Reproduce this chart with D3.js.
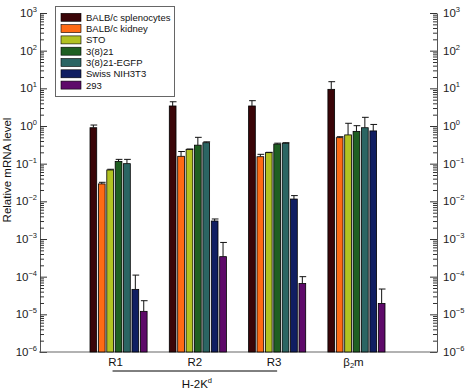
<!DOCTYPE html>
<html><head><meta charset="utf-8">
<script src="https://cdn.jsdelivr.net/npm/d3@7"></script>
<style>body{margin:0;background:#fff}svg{display:block;font-family:"Liberation Sans",Arial,Helvetica,sans-serif}</style>
</head><body>
<svg id="c" width="465" height="392"></svg>
<script>
const groups = ["R1","R2","R3","β2m"];
const seriesNames = ["BALB/c splenocytes","BALB/c kidney","STO","3(8)21","3(8)21-EGFP","Swiss NIH3T3","293"];
const seriesColors = ["#3a0508","#ff6a14","#b2c222","#1f5f22","#2b6563","#101e62","#5e0a6a"];
const splenocytes = [0.9, 3.4, 3.4, 9.4],        splenocytesErr = [1.06, 4.4, 4.7, 15];
const kidney      = [0.029, 0.157, 0.153, 0.49], kidneyErr      = [0.032, 0.21, 0.177, 0.52];
const sto         = [0.068, 0.24, 0.196, 0.58],  stoErr         = [0.071, 0.245, 0.2, 1.18];
const c3821       = [0.115, 0.31, 0.33, 0.72],   c3821Err       = [0.13, 0.5, 0.35, 1.02];
const c3821egfp   = [0.10, 0.36, 0.35, 0.9],     c3821egfpErr   = [0.13, 0.38, 0.36, 1.7];
const nih3t3      = [4.6e-5, 3.0e-3, 0.0115, 0.74], nih3t3Err  = [1.1e-4, 3.4e-3, 0.0142, 1.1];
const h293        = [1.2e-5, 3.4e-4, 6.6e-5, 1.95e-5], h293Err = [2.3e-5, 8.1e-4, 1.0e-4, 4.7e-5];
const yTickExps = [3,2,1,0,-1,-2,-3,-4,-5,-6];

const seriesVals = [splenocytes,kidney,sto,c3821,c3821egfp,nih3t3,h293];
const seriesErrs = [splenocytesErr,kidneyErr,stoErr,c3821Err,c3821egfpErr,nih3t3Err,h293Err];

const svg = d3.select("#c");
const y = d3.scaleLog().domain([1e-6,1e3]).range([352,13]);
const x = d3.scaleBand().domain(groups).range([90,385]).paddingInner(0.28).paddingOuter(0);
const xs = d3.scaleBand().domain(d3.range(seriesNames.length)).range([0,x.bandwidth()]).paddingInner(0.2);

// minor+major ticks
const allTicks = [];
for (let e=-6;e<3;e++) for (let m=1;m<10;m++) allTicks.push(m*Math.pow(10,e));
allTicks.push(1e3);
const isMajor = v => Math.abs(Math.log10(v)-Math.round(Math.log10(v)))<1e-9;

function drawAxis(xpos, dir){
  const ax = (dir>0? d3.axisRight(y): d3.axisLeft(y)).tickValues(allTicks).tickFormat("").tickSizeOuter(0);
  const g = svg.append("g").attr("transform",`translate(${xpos},0)`).call(ax);
  g.select(".domain").attr("stroke","#555");
  g.selectAll(".tick line").attr("stroke","#333").attr("x2", d=> dir*(isMajor(d)?7:4));
  return g;
}
drawAxis(40,1);
drawAxis(437,-1);

// bottom axis line
svg.append("line").attr("x1",39).attr("x2",437).attr("y1",y(1e-6)).attr("y2",y(1e-6)).attr("stroke","#666").attr("stroke-width",1.2);

// tick labels
function tickLabel(xp, anchor, e){
  const t = svg.append("text").attr("x",xp).attr("y",y(Math.pow(10,e))+4).attr("text-anchor",anchor)
    .attr("font-size",11.5).attr("fill","#222");
  t.append("tspan").text("10");
  t.append("tspan").attr("dy",-5).attr("font-size",7.5).text(e<0? "−"+(-e): String(e));
}
yTickExps.forEach(e=>{ tickLabel(37,"end",e); tickLabel(443,"start",e); });

// bars
const bars = [];
seriesVals.forEach((vals,si)=>vals.forEach((v,gi)=>bars.push({si,gi,v,err:seriesErrs[si][gi]})));
const bx = d => x(groups[d.gi]) + xs(d.si);
svg.append("g").selectAll("rect").data(bars).join("rect")
  .attr("x",bx).attr("width",xs.bandwidth())
  .attr("y",d=>y(d.v)).attr("height",d=>y(1e-6)-y(d.v))
  .attr("fill",d=>seriesColors[d.si]).attr("stroke","#000").attr("stroke-width",0.8);
const eg = svg.append("g").attr("stroke","#111").attr("stroke-width",1);
eg.selectAll("line.v").data(bars).join("line").attr("class","v")
  .attr("x1",d=>bx(d)+xs.bandwidth()/2).attr("x2",d=>bx(d)+xs.bandwidth()/2)
  .attr("y1",d=>y(d.v)).attr("y2",d=>y(d.err));
eg.selectAll("line.c").data(bars).join("line").attr("class","c")
  .attr("x1",d=>bx(d)+0.5).attr("x2",d=>bx(d)+xs.bandwidth()+0.5)
  .attr("y1",d=>y(d.err)).attr("y2",d=>y(d.err));

// x labels
svg.append("g").selectAll("text").data(groups).join("text")
  .attr("x",d=>x(d)+x.bandwidth()/2-3).attr("y",366).attr("text-anchor","middle")
  .attr("font-size",11.5).attr("fill","#111")
  .each(function(d){
    const t=d3.select(this);
    if(d==="β2m"){ t.append("tspan").text("β"); t.append("tspan").attr("font-size",7.5).attr("dy",2).text("2"); t.append("tspan").attr("dy",-2).text("m"); }
    else t.text(d);
  });

// H-2Kd bracket
const lx1 = x("R1")+x.bandwidth()/2-6, lx2 = x("R3")+x.bandwidth()/2;
svg.append("line").attr("x1",lx1).attr("x2",lx2).attr("y1",371).attr("y2",371).attr("stroke","#000").attr("stroke-width",1);
const ht = svg.append("text").attr("x",(lx1+lx2)/2+2).attr("y",388).attr("text-anchor","middle").attr("font-size",11.5).attr("fill","#111");
ht.append("tspan").text("H-2K"); ht.append("tspan").attr("dy",-5).attr("font-size",7.5).text("d");

// y label
svg.append("text").attr("transform","translate(10.5,170) rotate(-90)").attr("text-anchor","middle")
  .attr("font-size",11.5).attr("fill","#111").text("Relative mRNA level");

// legend
const lg = svg.append("g");
lg.append("rect").attr("x",55.5).attr("y",6.5).attr("width",119).attr("height",90).attr("fill","#fff").attr("stroke","#666");
const rows = lg.selectAll("g.r").data(seriesNames).join("g").attr("class","r")
  .attr("transform",(d,i)=>`translate(0,${17.3+i*11.3})`);
rows.append("rect").attr("x",61).attr("y",-4).attr("width",20).attr("height",8)
  .attr("fill",(d,i)=>seriesColors[i]).attr("stroke","#000").attr("stroke-width",0.6);
rows.append("text").attr("x",86).attr("y",3.5).attr("font-size",9.5).attr("fill","#111").text(d=>d);
</script>
</body></html>
